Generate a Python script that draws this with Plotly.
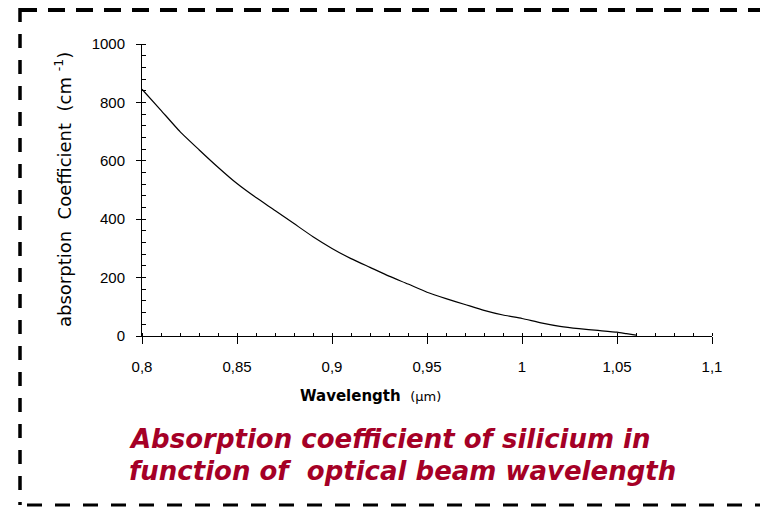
import plotly.graph_objects as go

# ---- data ----
wavelength_um = [0.80, 0.81, 0.82, 0.83, 0.84, 0.85, 0.86, 0.87, 0.88, 0.89,
                 0.90, 0.91, 0.92, 0.93, 0.94, 0.95, 0.96, 0.97, 0.98, 0.99,
                 1.00, 1.01, 1.02, 1.03, 1.04, 1.05, 1.055, 1.06]
absorption_cm = [845, 773, 700, 638, 578, 522, 474, 430, 385, 340,
                 300, 265, 235, 205, 178, 150, 128, 108, 88, 72,
                 60, 45, 33, 25, 19, 13, 8, 3]

x_tickvals = [0.8, 0.85, 0.9, 0.95, 1.0, 1.05, 1.1]
x_ticktext = ["0,8", "0,85", "0,9", "0,95", "1", "1,05", "1,1"]
y_tickvals = [0, 200, 400, 600, 800, 1000]
y_ticktext = ["0", "200", "400", "600", "800", "1000"]

x_title = "<b>Wavelength</b>  <span style='font-size:13px'>(µm)</span>"
y_title = "absorption  Coefficient  (cm <sup>-1</sup>)"
caption_lines = ["Absorption coefficient of silicium in",
                 "function of  optical beam wavelength"]

# ---- layout geometry ----
W, H = 760, 507
L, R, T, B = 142, 48, 44, 171
PW, PH = W - L - R, H - T - B


def px_x(px):
    return (px - L) / PW


def px_y(py):
    return (H - B - py) / PH


fig = go.Figure()
fig.add_trace(go.Scatter(
    x=wavelength_um, y=absorption_cm, mode="lines",
    line=dict(color="black", width=1.2, shape="spline", smoothing=0.5),
    showlegend=False, hoverinfo="x+y",
))

axis_font = dict(family="Liberation Sans, Arial, sans-serif", size=15, color="black")

fig.update_xaxes(
    range=[0.8, 1.1], tickvals=x_tickvals, ticktext=x_ticktext,
    showline=True, linecolor="black", linewidth=1, showgrid=False, zeroline=False,
    ticks="outside", ticklen=7, tickwidth=1, tickcolor="black",
    minor=dict(dtick=0.01, tick0=0.8, ticks="inside", ticklen=3, tickcolor="black", showgrid=False),
    tickfont=axis_font, ticklabelstandoff=10,
)
fig.update_yaxes(
    range=[0, 1000], tickvals=y_tickvals, ticktext=y_ticktext,
    showline=True, linecolor="black", linewidth=1, showgrid=False, zeroline=False,
    ticks="outside", ticklen=5, tickwidth=1, tickcolor="black",
    minor=dict(dtick=40, tick0=0, ticks="inside", ticklen=4, tickcolor="black", showgrid=False),
    tickfont=axis_font, ticklabelstandoff=8,
)

annotations = [
    dict(text=y_title, xref="paper", yref="paper", x=px_x(63), y=px_y(190),
         textangle=-90, showarrow=False, xanchor="center", yanchor="middle",
         font=dict(family="DejaVu Sans, sans-serif", size=18, color="black")),
    dict(text=x_title, xref="paper", yref="paper", x=px_x(370), y=px_y(396),
         showarrow=False, xanchor="center", yanchor="middle",
         font=dict(family="DejaVu Sans, sans-serif", size=15, color="black")),
]
for i, line in enumerate(caption_lines):
    annotations.append(dict(
        text="<b><i>" + line + "</i></b>", xref="paper", yref="paper",
        x=px_x(127), y=px_y(439 + 32 * i), showarrow=False,
        xanchor="left", yanchor="middle",
        font=dict(family="DejaVu Sans, sans-serif", size=26, color="#A50026"),
    ))

shapes = [
    dict(type="line", xref="paper", yref="paper",
         x0=px_x(20), y0=px_y(10), x1=px_x(770), y1=px_y(10),
         line=dict(color="black", width=4, dash="17px,11px")),
    dict(type="line", xref="paper", yref="paper",
         x0=px_x(20), y0=px_y(8), x1=px_x(20), y1=px_y(505),
         line=dict(color="black", width=3.5, dash="14px,12px")),
    dict(type="line", xref="paper", yref="paper",
         x0=px_x(27), y0=px_y(505), x1=px_x(770), y1=px_y(505),
         line=dict(color="black", width=3, dash="15px,13px")),
]

fig.update_layout(
    width=W, height=H, margin=dict(l=L, r=R, t=T, b=B, autoexpand=False),
    paper_bgcolor="white", plot_bgcolor="white",
    separators=", ", annotations=annotations, shapes=shapes,
)

fig.write_html("out.html")
